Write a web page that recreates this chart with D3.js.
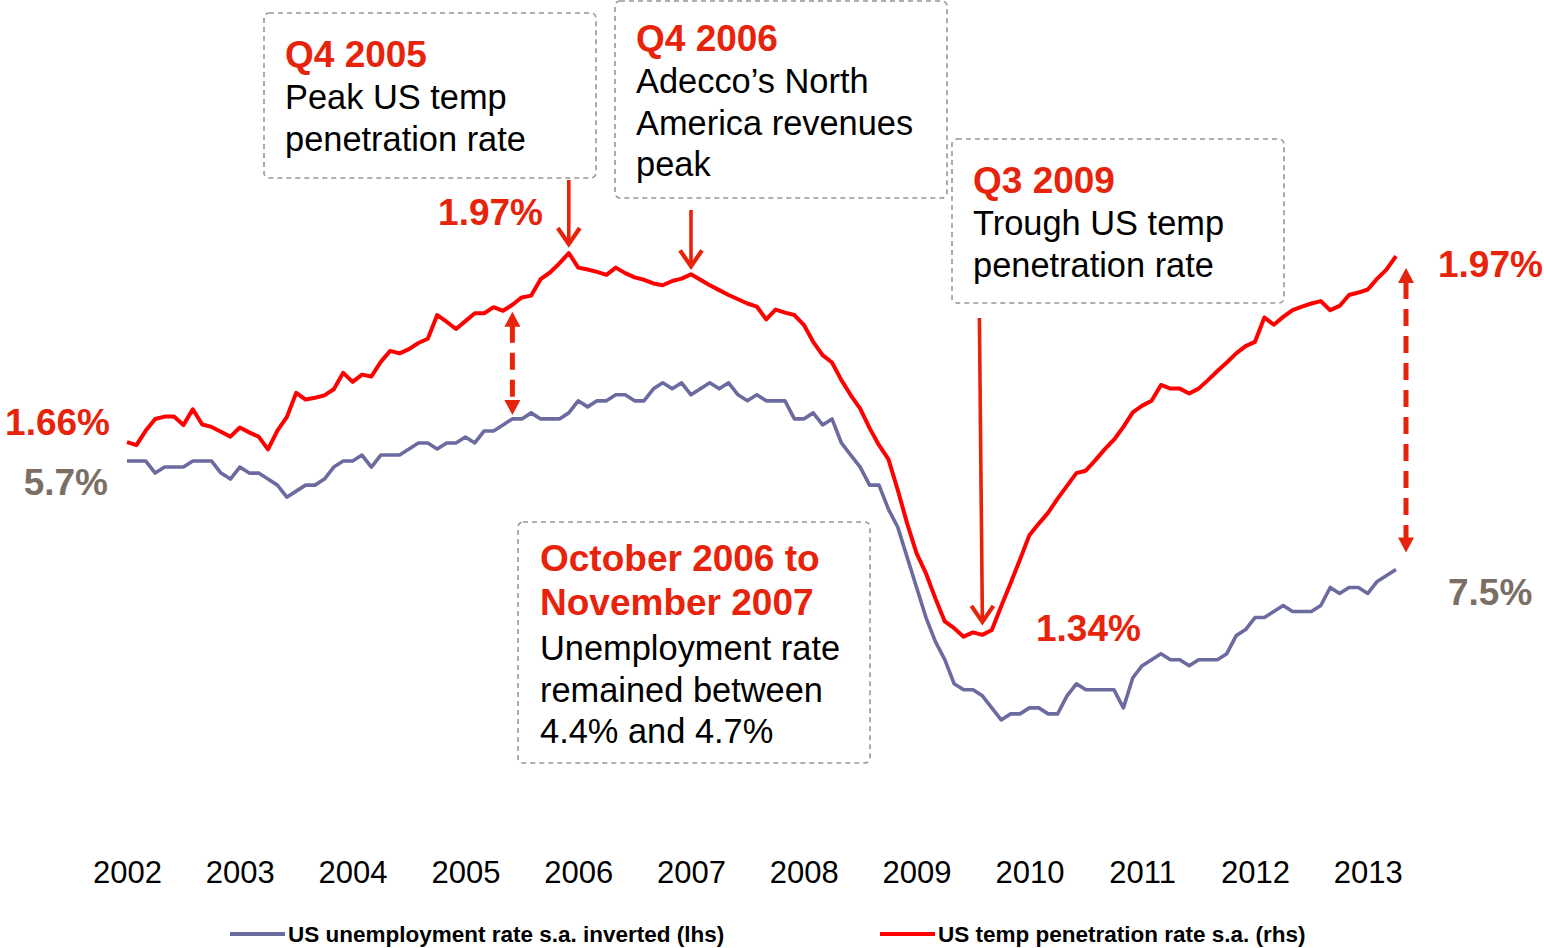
<!DOCTYPE html>
<html><head><meta charset="utf-8">
<script src="https://cdn.jsdelivr.net/npm/d3@7"></script>
<style>
body{margin:0;background:#fff;}
svg{display:block;font-family:"Liberation Sans", Arial, sans-serif;}
</style></head><body>
<svg id="c" width="1544" height="948"></svg>
<script>
// ---- data (monthly, Jan 2002 .. Apr 2013) ----
const years = ["2002","2003","2004","2005","2006","2007","2008","2009","2010","2011","2012","2013"];
const unemployment = [
5.7,5.7,5.7,5.9,5.8,5.8,5.8,5.7,5.7,5.7,5.9,6.0,
5.8,5.9,5.9,6.0,6.1,6.3,6.2,6.1,6.1,6.0,5.8,5.7,
5.7,5.6,5.8,5.6,5.6,5.6,5.5,5.4,5.4,5.5,5.4,5.4,
5.3,5.4,5.2,5.2,5.1,5.0,5.0,4.9,5.0,5.0,5.0,4.9,
4.7,4.8,4.7,4.7,4.6,4.6,4.7,4.7,4.5,4.4,4.5,4.4,
4.6,4.5,4.4,4.5,4.4,4.6,4.7,4.6,4.7,4.7,4.7,5.0,
5.0,4.9,5.1,5.0,5.4,5.6,5.8,6.1,6.1,6.5,6.8,7.3,
7.8,8.3,8.7,9.0,9.4,9.5,9.5,9.6,9.8,10.0,9.9,9.9,
9.8,9.8,9.9,9.9,9.6,9.4,9.5,9.5,9.5,9.5,9.8,9.3,
9.1,9.0,8.9,9.0,9.0,9.1,9.0,9.0,9.0,8.9,8.6,8.5,
8.3,8.3,8.2,8.1,8.2,8.2,8.2,8.1,7.8,7.9,7.8,7.8,
7.9,7.7,7.6,7.5];
const tempRate = [
1.659,1.654,1.678,1.697,1.701,1.701,1.687,1.713,1.688,1.684,1.676,1.668,
1.683,1.675,1.668,1.647,1.678,1.700,1.740,1.729,1.732,1.736,1.746,1.773,
1.758,1.770,1.767,1.791,1.809,1.805,1.812,1.822,1.829,1.868,1.857,1.845,
1.858,1.871,1.871,1.881,1.875,1.885,1.897,1.900,1.927,1.938,1.953,1.970,
1.946,1.943,1.939,1.934,1.946,1.937,1.930,1.926,1.920,1.917,1.924,1.928,
1.935,1.926,1.917,1.909,1.901,1.894,1.887,1.882,1.861,1.877,1.872,1.868,
1.852,1.824,1.802,1.790,1.761,1.736,1.714,1.682,1.654,1.631,1.580,1.525,
1.476,1.443,1.402,1.364,1.353,1.339,1.346,1.342,1.350,1.389,1.427,1.466,
1.506,1.525,1.543,1.566,1.587,1.608,1.612,1.629,1.647,1.663,1.684,1.708,
1.719,1.727,1.753,1.747,1.747,1.739,1.747,1.761,1.776,1.790,1.805,1.817,
1.824,1.864,1.852,1.865,1.876,1.882,1.887,1.891,1.876,1.883,1.901,1.905,
1.910,1.928,1.943,1.965];
const seriesNames = ["US unemployment rate s.a. inverted (lhs)", "US temp penetration rate s.a. (rhs)"];
const boxTitles = [["Q4 2005"],["Q4 2006"],["Q3 2009"],["October 2006 to","November 2007"]];
const boxBodies = [["Peak US temp","penetration rate"],["Adecco\u2019s North","America revenues","peak"],["Trough US temp","penetration rate"],["Unemployment rate","remained between","4.4% and 4.7%"]];
const valueLabels = ["1.66%","5.7%","1.97%","1.34%","1.97%","7.5%"];

// ---- setup ----
const RED = "#ff0000", BLUE = "#6b6ba0", ARED = "#e8230b", GREY = "#7b6f65", BOX = "#9e958c";
const svg = d3.select("#c");
const n = tempRate.length;
const x = d3.scaleLinear().domain([0, n - 1]).range([127, 1396]);
const yL = d3.scaleLinear().domain([3, 11]).range([298.5, 780.1]);   // inverted unemployment
const yR = d3.scaleLinear().domain([1.2, 2.0]).range([721.2, 234.8]);

// year axis
const axis = d3.axisBottom(x)
  .tickValues(years.map((y, i) => i * 12))
  .tickFormat((d, i) => years[i])
  .tickSize(0).tickPadding(6);
const ag = svg.append("g").attr("transform", "translate(0,855)").call(axis);
ag.select(".domain").remove();
ag.selectAll("text").attr("font-size", 31).attr("fill", "#000")
  .attr("font-family", "Liberation Sans, Arial, sans-serif");

// lines
const lineL = d3.line().x((d, i) => x(i)).y(d => yL(d));
const lineR = d3.line().x((d, i) => x(i)).y(d => yR(d));
svg.append("path").attr("d", lineL(unemployment)).attr("fill", "none")
  .attr("stroke", BLUE).attr("stroke-width", 3.6).attr("stroke-linejoin", "round");
svg.append("path").attr("d", lineR(tempRate)).attr("fill", "none")
  .attr("stroke", RED).attr("stroke-width", 4).attr("stroke-linejoin", "round");

// annotation boxes
const boxes = [
  {x0: 264, y0: 13, x1: 596, y1: 178, tx: 285, ty: 67},
  {x0: 615, y0: 1, x1: 947, y1: 198, tx: 636, ty: 51},
  {x0: 952, y0: 139, x1: 1284, y1: 303, tx: 973, ty: 193},
  {x0: 518, y0: 522, x1: 870, y1: 763, tx: 540, ty: 571}
];
boxes.forEach((b, k) => {
  svg.append("rect").attr("x", b.x0).attr("y", b.y0)
    .attr("width", b.x1 - b.x0).attr("height", b.y1 - b.y0).attr("rx", 5)
    .attr("fill", "#fff").attr("stroke", BOX).attr("stroke-width", 1.6)
    .attr("stroke-dasharray", "5 4");
  let yy = b.ty;
  boxTitles[k].forEach(t => {
    svg.append("text").attr("x", b.tx).attr("y", yy).text(t)
      .attr("font-size", 37).attr("font-weight", "bold").attr("fill", ARED);
    yy += 44;
  });
  yy += (k === 3 ? 1 : -2);
  boxBodies[k].forEach(t => {
    svg.append("text").attr("x", b.tx).attr("y", yy).text(t)
      .attr("font-size", 34.4).attr("fill", "#000");
    yy += 41.5;
  });
});

// solid arrows (pointing down to data points)
function arrowDown(xTop, yTop, xTip, yTip) {
  svg.append("line").attr("x1", xTop).attr("y1", yTop).attr("x2", xTip).attr("y2", yTip - 3)
    .attr("stroke", ARED).attr("stroke-width", 3.6);
  svg.append("path")
    .attr("d", `M${xTip - 11},${yTip - 18}L${xTip},${yTip - 2}L${xTip + 11},${yTip - 18}`)
    .attr("fill", "none").attr("stroke", ARED).attr("stroke-width", 4.2)
    .attr("stroke-linejoin", "miter");
}
const iPeak = d3.maxIndex(tempRate.slice(0, 60));
arrowDown(x(iPeak), 180, x(iPeak), yR(tempRate[iPeak]) - 7);
const iPeak2 = 60;
arrowDown(x(iPeak2), 210, x(iPeak2), yR(tempRate[iPeak2]) - 6);
const iTrough = 91;
arrowDown(x(iTrough) - 3, 318, x(iTrough), yR(tempRate[iTrough]) - 11);

// dashed double arrows (gap between the two series)
function dashedDouble(xx, yTop, yBot) {
  const h = 15, w = 8;
  svg.append("line").attr("x1", xx).attr("x2", xx).attr("y1", yTop + h - 1).attr("y2", yBot - h + 1)
    .attr("stroke", ARED).attr("stroke-width", 5).attr("stroke-dasharray", "17 10");
  svg.append("path").attr("d", `M${xx},${yTop}L${xx + w},${yTop + h}L${xx - w},${yTop + h}Z`).attr("fill", ARED);
  svg.append("path").attr("d", `M${xx},${yBot}L${xx + w},${yBot - h}L${xx - w},${yBot - h}Z`).attr("fill", ARED);
}
const iGap = 41;
dashedDouble(x(iGap), yR(tempRate[iGap]) + 7, yL(unemployment[iGap]) - 4);
dashedDouble(x(n - 1) + 10, yR(tempRate[n - 1]) + 12, yL(unemployment[n - 1]) - 17);

// value labels
const vl = [
  {t: valueLabels[0], x: 110, y: 435, c: ARED, a: "end"},
  {t: valueLabels[1], x: 108, y: 495, c: GREY, a: "end"},
  {t: valueLabels[2], x: 543, y: 225, c: ARED, a: "end"},
  {t: valueLabels[3], x: 1036, y: 641, c: ARED, a: "start"},
  {t: valueLabels[4], x: 1438, y: 277, c: ARED, a: "start"},
  {t: valueLabels[5], x: 1448, y: 605, c: GREY, a: "start"}
];
vl.forEach(v => svg.append("text").attr("x", v.x).attr("y", v.y).text(v.t)
  .attr("text-anchor", v.a).attr("font-size", 37).attr("font-weight", "bold").attr("fill", v.c));

// legend
const leg = [{c: BLUE, x: 230}, {c: RED, x: 880}];
leg.forEach((l, k) => {
  svg.append("line").attr("x1", l.x).attr("x2", l.x + 55).attr("y1", 934).attr("y2", 934)
    .attr("stroke", l.c).attr("stroke-width", 4);
  svg.append("text").attr("x", l.x + 58).attr("y", 942).text(seriesNames[k])
    .attr("font-size", 22.5).attr("font-weight", "bold").attr("fill", "#000");
});
</script>
</body></html>
